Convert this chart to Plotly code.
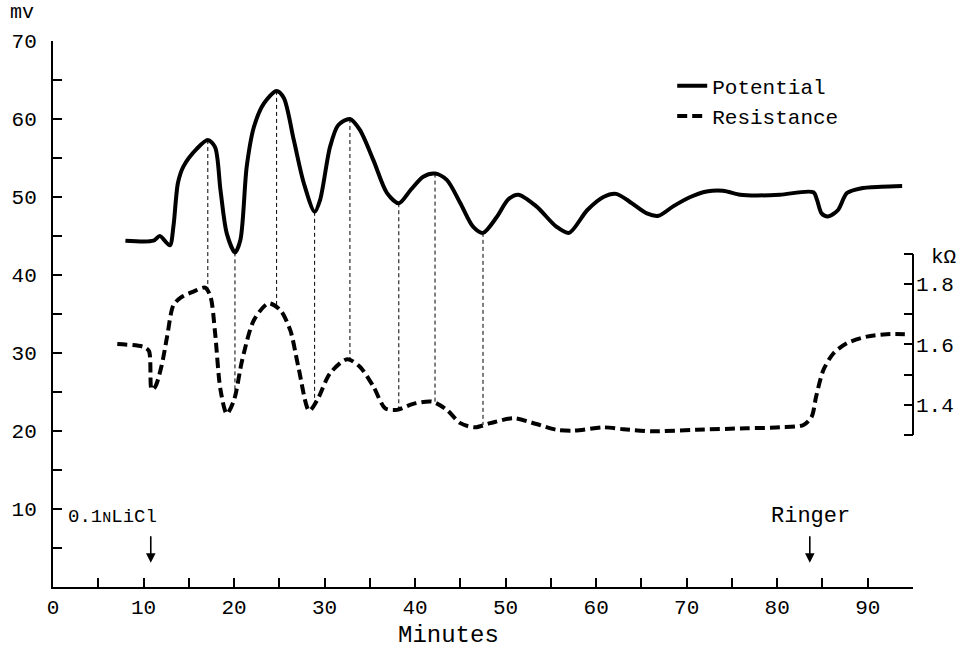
import numpy as np
import plotly.graph_objects as go

# ---------------- data ----------------
pot_t = [8.0, 11.1, 11.8, 12.9, 13.3, 13.8, 14.4, 15.9, 17.1, 17.9, 18.5, 19.2, 20.1,
         20.7, 21.4, 22.2, 23.3, 24.7, 25.5, 26.6, 27.7, 28.9, 29.5, 30.6, 31.5, 32.8,
         33.9, 35.4, 36.9, 38.2, 39.5, 40.9, 42.2, 43.5, 45.0, 46.4, 47.5, 49.0, 50.3,
         51.4, 53.4, 55.6, 57.0, 59.0, 60.8, 62.2, 63.7, 65.6, 66.9, 68.5, 70.4, 72.2,
         74.0, 75.9, 77.7, 80.3, 84.0, 84.4, 84.9, 85.6, 86.7, 87.7, 89.2, 91.5, 93.8]
pot_mv = [44.4, 44.4, 45.0, 43.8, 46.2, 51.8, 53.9, 56.2, 57.3, 56.4, 50.9, 45.3, 42.9,
          44.5, 53.9, 59.0, 62.0, 63.6, 62.7, 57.3, 51.8, 48.1, 49.6, 56.4, 59.2, 60.0,
          58.6, 54.7, 50.5, 49.2, 50.9, 52.6, 53.0, 52.2, 49.2, 46.2, 45.4, 47.4, 49.7,
          50.3, 48.8, 46.2, 45.4, 48.3, 50.0, 50.4, 49.4, 47.9, 47.6, 48.8, 50.0, 50.7,
          50.8, 50.3, 50.2, 50.3, 50.6, 49.6, 47.9, 47.5, 48.3, 50.5, 51.1, 51.3, 51.4]

res_t = [7.1, 10.0, 10.6, 10.9, 11.3, 12.0, 12.6, 13.3, 14.1, 15.5, 16.8, 17.4,
         17.9, 18.5, 19.2, 20.0, 20.9, 22.2, 23.8, 25.1, 26.2, 27.1, 28.3, 29.2, 30.6,
         32.5, 33.9, 35.4, 36.7, 38.0, 39.8, 41.9, 43.5, 45.0, 46.6, 48.3, 50.9, 53.4,
         55.6, 57.5, 60.8, 63.0, 66.3, 71.1, 76.6, 80.3, 82.9, 83.8, 84.3, 85.1, 86.2,
         87.7, 89.9, 92.1, 94.1]
res_k = [1.601, 1.592, 1.578, 1.450, 1.46, 1.53, 1.625, 1.73, 1.755, 1.775, 1.788,
         1.758, 1.64, 1.45, 1.37, 1.416, 1.548, 1.681, 1.736, 1.714, 1.648, 1.526, 1.38,
         1.416, 1.504, 1.551, 1.526, 1.46, 1.388, 1.383, 1.403, 1.41, 1.383, 1.339, 1.325,
         1.339, 1.355, 1.336, 1.317, 1.314, 1.325, 1.319, 1.312, 1.317, 1.322, 1.325,
         1.333, 1.36, 1.427, 1.515, 1.57, 1.604, 1.626, 1.634, 1.634]

connector_t = [17.1, 20.1, 24.7, 28.9, 32.8, 38.2, 42.2, 47.5]

x_ticks = list(range(0, 100, 5))
x_labels = [str(v) if v % 10 == 0 and v < 95 else "" for v in x_ticks]
y_ticks = list(range(0, 75, 5))
y_labels = [str(v) if v % 10 == 0 and v > 0 else "" for v in y_ticks]
y2_ticks = [1.3, 1.4, 1.5, 1.6, 1.7, 1.8, 1.9]
y2_labels = ["", "1.4", "", "1.6", "", "1.8", ""]

# right-axis scale: 1.3 kOhm sits level with 19.5 mV, 1.9 kOhm with 42.7 mV
MV_LO, MV_HI, K_LO, K_HI = 19.5, 42.7, 1.3, 1.9
def mv_to_k(v):
    return K_LO + (v - MV_LO) * (K_HI - K_LO) / (MV_HI - MV_LO)
def k_to_mv(k):
    return MV_LO + (k - K_LO) * (MV_HI - MV_LO) / (K_HI - K_LO)

FONT = "Liberation Mono"
BLACK = "black"

fig = go.Figure()
# connectors (thin dashed verticals)
cx, cy = [], []
for t in connector_t:
    top = float(np.interp(t, pot_t, pot_mv))
    bot = k_to_mv(float(np.interp(t, res_t, res_k)))
    cx += [t, t, None]
    cy += [top, bot, None]
fig.add_trace(go.Scatter(x=cx, y=cy, mode="lines", showlegend=False, hoverinfo="skip",
                         line=dict(color=BLACK, width=1, dash="4px,3px")))

fig.add_trace(go.Scatter(x=pot_t, y=pot_mv, mode="lines", name="Potential",
                         line=dict(color=BLACK, width=4, shape="spline", smoothing=0.8)))
fig.add_trace(go.Scatter(x=res_t, y=res_k, mode="lines", name="Resistance", yaxis="y2",
                         line=dict(color=BLACK, width=4, dash="10px,5px",
                                   shape="spline", smoothing=0.8)))

axis_common = dict(showgrid=False, zeroline=False, showline=True, linecolor=BLACK,
                   linewidth=2, ticks="inside", ticklen=9, tickwidth=2, tickcolor=BLACK,
                   automargin=False,
                   tickfont=dict(family=FONT, size=21, color=BLACK))

fig.update_layout(
    width=962, height=650,
    margin=dict(l=53, r=49, t=41, b=63),
    paper_bgcolor="white", plot_bgcolor="white",
    xaxis=dict(range=[0, 95], tickmode="array", tickvals=x_ticks, ticktext=x_labels,
               ticklabelstandoff=0, **axis_common),
    yaxis=dict(range=[0, 70], tickmode="array", tickvals=y_ticks, ticktext=y_labels,
               ticklabelstandoff=10, **axis_common),
    yaxis2=dict(range=[mv_to_k(0), mv_to_k(70)], overlaying="y", side="right",
                tickmode="array", tickvals=y2_ticks, ticktext=y2_labels,
                showgrid=False, zeroline=False, showline=False, ticks="inside",
                automargin=False,
                ticklen=9, tickwidth=2, tickcolor=BLACK, ticklabelstandoff=2,
                tickfont=dict(family=FONT, size=21, color=BLACK)),
    legend=dict(x=0.72, y=0.955, xanchor="left", yanchor="top", bgcolor="rgba(0,0,0,0)",
                font=dict(family=FONT, size=21, color=BLACK), tracegroupgap=0),
    showlegend=True,
)

# right axis spine only across the kOhm range
fig.add_shape(type="line", xref="paper", yref="y2", x0=1, x1=1, y0=K_LO, y1=K_HI,
              line=dict(color=BLACK, width=2))

fig.add_annotation(text="mv", xref="paper", yref="paper", x=-0.052, y=1.053,
                   xanchor="left", yanchor="middle",
                   showarrow=False, font=dict(family=FONT, size=20, color=BLACK))
fig.add_annotation(text="kΩ", xref="paper", yref="paper", x=1.052, y=0.603,
                   xanchor="right", yanchor="middle",
                   showarrow=False, font=dict(family=FONT, size=21, color=BLACK))
fig.add_annotation(text="Minutes", x=43.7, xref="x", yref="paper", y=-0.0897,
                   xanchor="center", yanchor="middle",
                   showarrow=False, font=dict(family=FONT, size=24, color=BLACK))
fig.add_annotation(text="0.1<span style='font-size:15px'>N</span>LiCl", x=6.6, y=9.0,
                   showarrow=False, font=dict(family=FONT, size=19, color=BLACK))
fig.add_annotation(text="Ringer", x=83.7, y=9.0, showarrow=False,
                   font=dict(family=FONT, size=22, color=BLACK))
for t in [10.8, 83.6]:
    fig.add_annotation(text="", x=t, y=3.1, ax=0, ay=-28, showarrow=True,
                       arrowhead=2, arrowsize=1.2, arrowwidth=1.6, arrowcolor=BLACK)

fig.write_html("out.html")
